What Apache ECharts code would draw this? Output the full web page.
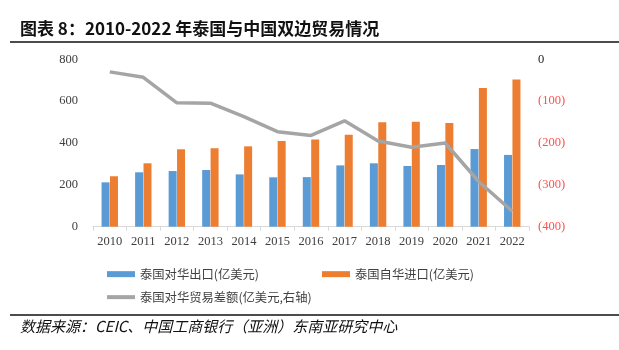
<!DOCTYPE html>
<html><head><meta charset="utf-8">
<script src="https://cdn.jsdelivr.net/npm/echarts@6/dist/echarts.min.js"></script>
<style>html,body{margin:0;padding:0;background:#fff}#c{width:619px;height:350px}</style>
</head><body><div id="c"></div>
<script>
var years = ['2010','2011','2012','2013','2014','2015','2016','2017','2018','2019','2020','2021','2022'];
var exportsToChina = [212,260,266,271,250,236,237,293,303,290,295,371,343];
var importsFromChina = [241,303,370,375,384,409,417,440,499,502,495,663,704];
var tradeBalance = [-30,-43,-104,-105,-137,-173,-182,-147,-195,-210,-200,-292,-363];
var leftTicks = {min:0, max:800, interval:200};
var rightTicks = {min:-400, max:0, interval:100};
var names = ['泰国对华出口(亿美元)','泰国自华进口(亿美元)','泰国对华贸易差额(亿美元,右轴)'];

var chart = echarts.init(document.getElementById('c'), null, {renderer:'canvas'});
var serif = 'Liberation Serif';
var cjk = 'Noto Sans CJK SC';
var legendText = {fontSize:12.3, color:'#404040', fontFamily:cjk};
chart.setOption({
  animation:false,
  backgroundColor:'#fff',
  grid:{left:93, right:90, top:59.3, bottom:123.3, containLabel:false},
  xAxis:{type:'category', data:years,
    axisLine:{lineStyle:{color:'#D9D9D9', width:1}},
    axisTick:{show:true, length:4, lineStyle:{color:'#D9D9D9'}},
    axisLabel:{fontFamily:serif, fontSize:12.5, color:'#404040', margin:9}
  },
  yAxis:[
    {type:'value', min:leftTicks.min, max:leftTicks.max, interval:leftTicks.interval,
      splitLine:{show:false}, axisLine:{show:false}, axisTick:{show:false},
      axisLabel:{fontFamily:serif, fontSize:12.5, color:'#404040', margin:15}},
    {type:'value', min:rightTicks.min, max:rightTicks.max, interval:rightTicks.interval,
      splitLine:{show:false}, axisLine:{show:false}, axisTick:{show:false},
      axisLabel:{fontFamily:serif, fontSize:12.5, margin:9,
        color:function(v){return Number(v)===0?'#222':'#FF4F4F';},
        formatter:function(v){return v===0?'0':'('+(-v)+')';}}}
  ],
  legend:[
    {left:102, top:263, data:[names[0]], itemWidth:28, itemHeight:6, icon:'rect', textStyle:legendText},
    {left:317, top:263, data:[names[1]], itemWidth:28, itemHeight:6, icon:'rect', textStyle:legendText},
    {left:102, top:286, data:[names[2]], itemWidth:28, itemHeight:4, icon:'rect', textStyle:legendText}
  ],
  series:[
    {name:names[0], type:'bar', data:exportsToChina, barWidth:8, barGap:'5%', itemStyle:{color:'#5B9BD5'}},
    {name:names[1], type:'bar', data:importsFromChina, barWidth:8, itemStyle:{color:'#ED7D31'}},
    {name:names[2], type:'line', yAxisIndex:1, data:tradeBalance, symbol:'none',
      lineStyle:{color:'#A5A5A5', width:3.5}, itemStyle:{color:'#A5A5A5'}}
  ],
  graphic:[
    {type:'text', left:20, top:20, style:{text:'图表 8：2010-2022 年泰国与中国双边贸易情况', fontSize:17, fontWeight:'bold', fontFamily:cjk, fill:'#111'}},
    {type:'line', shape:{x1:10, y1:42, x2:619, y2:42}, style:{stroke:'#111', lineWidth:1.5}},
    {type:'line', shape:{x1:10, y1:315, x2:619, y2:315}, style:{stroke:'#111', lineWidth:1.5}},
    {type:'text', left:20, top:319, style:{text:'数据来源：CEIC、中国工商银行（亚洲）东南亚研究中心', fontSize:15, fontStyle:'italic', fontFamily:cjk, fill:'#111'}}
  ]
});
</script></body></html>
